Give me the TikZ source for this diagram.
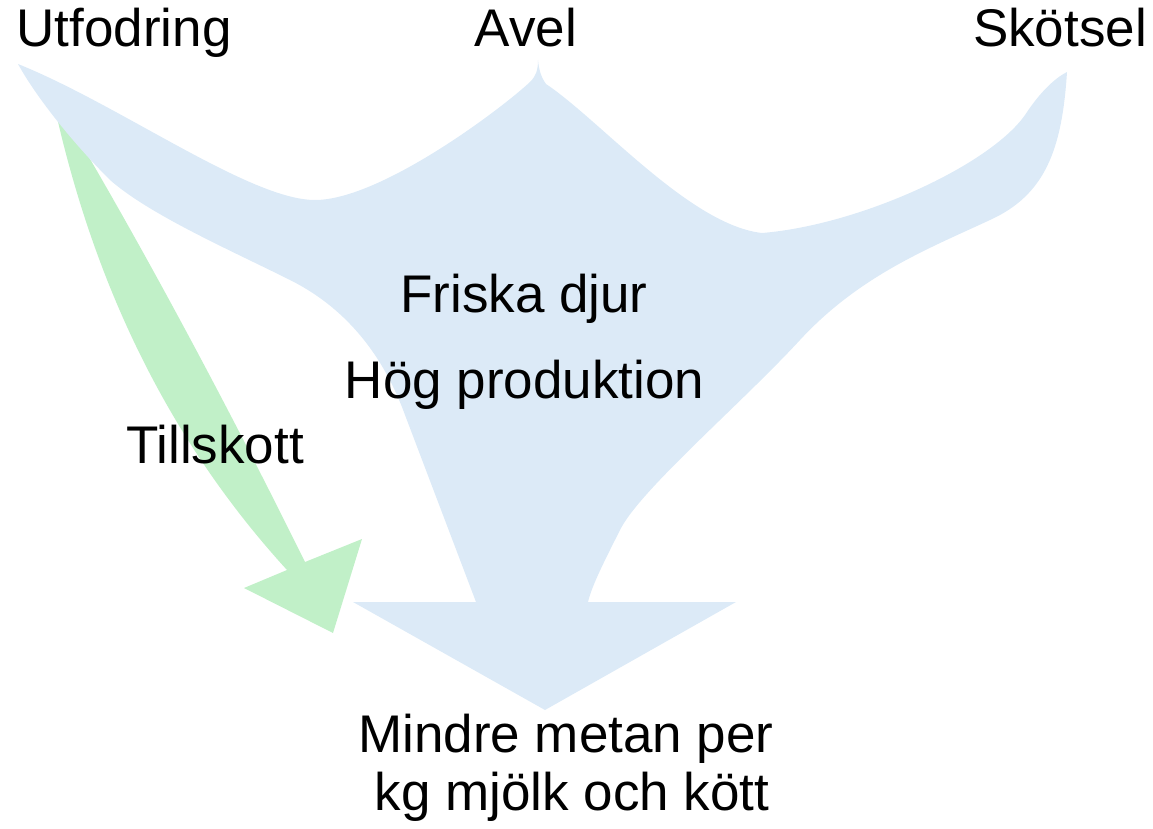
\documentclass[tikz,border=0pt]{standalone}
\usepackage{fontspec}
\setmainfont{Liberation Sans}
\definecolor{flowblue}{HTML}{DCEAF7}
\definecolor{flowgreen}{HTML}{C1F0C8}
\tikzset{
  lbl/.style={anchor=base, inner sep=0pt, font=\fontsize{53}{60}\selectfont, text=black},
  bluefill/.style={fill=flowblue, draw=none},
  greenfill/.style={fill=flowgreen, draw=none}
}
\begin{document}
\begin{tikzpicture}[x=1pt, y=-1pt]
\useasboundingbox (0,0) rectangle (1153,829);
% green arrow (Tillskott)
\path[greenfill] (52,95) .. controls (85,250) and (150,420) .. (287,570)
  -- (244,588) -- (333,633) -- (362,539) -- (305,562)
  .. controls (235,420) and (140,240) .. (52,95) -- cycle;
% blue merging arrow
\path[bluefill] (18,64) .. controls (120,105) and (250,200) .. (315,200)
  .. controls (380,200) and (500,110) .. (530,82)
  .. controls (536,76) and (538,70) .. (538,60)
  .. controls (539,70) and (541,77) .. (546,84)
  .. controls (600,120) and (690,225) .. (762,233)
  .. controls (860,225) and (990,165) .. (1025,115)
  .. controls (1040,92) and (1055,78) .. (1067,72)
  .. controls (1062,150) and (1045,195) .. (990,220)
  .. controls (930,248) and (860,275) .. (800,340)
  .. controls (740,405) and (640,490) .. (620,530)
  .. controls (605,560) and (592,585) .. (588,602)
  -- (736,602) -- (545,710) -- (353,602) -- (476,602)
  -- (405,415)
  .. controls (385,360) and (350,310) .. (290,280)
  .. controls (230,250) and (150,215) .. (110,180)
  .. controls (70,140) and (35,95) .. (18,64) -- cycle;
% labels
\node[lbl] (utf) at (124,47) {Utfodring};
\node[lbl] (avel) at (526,47) {Avel};
\node[lbl] (skot) at (1060,47) {Skötsel};
\node[lbl] (frisk) at (524,312) {Friska djur};
\node[lbl] (hog) at (524.5,398) {Hög produktion};
\node[lbl] (till) at (215,463) {Tillskott};
\node[lbl] (mind) at (566,752) {Mindre metan per};
\node[lbl] (kg) at (572,810) {kg mjölk och kött};
\end{tikzpicture}
\end{document}
